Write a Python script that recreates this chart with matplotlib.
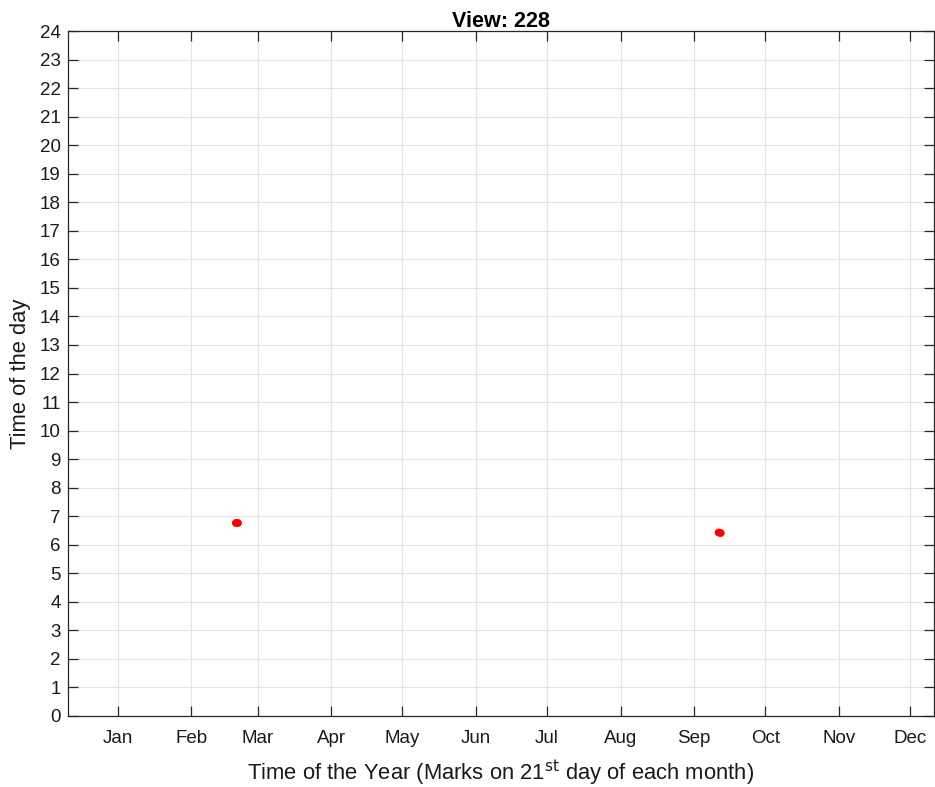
import matplotlib
matplotlib.use("Agg")
import matplotlib.pyplot as plt

plt.rcParams["font.family"] = ["Liberation Sans", "DejaVu Sans"]

# day of year of each sample and time of day (hours)
days = [70.8, 71.3, 71.8, 274.2, 274.7, 275.2]
hours = [6.76, 6.77, 6.76, 6.43, 6.42, 6.41]

months = ["Jan", "Feb", "Mar", "Apr", "May", "Jun",
          "Jul", "Aug", "Sep", "Oct", "Nov", "Dec"]
month_days = [21, 52, 80, 111, 141, 172, 202, 233, 264, 294, 325, 355]
hour_ticks = list(range(0, 25))

AX_C = "#262626"
GRID_C = "#e4e4e4"

fig = plt.figure(figsize=(9.35, 7.87), dpi=100)
ax = fig.add_axes([67.7 / 935, 1 - 716 / 787, (934 - 67.7) / 935, (716 - 31) / 787])

ax.scatter(days, hours, s=30, color="red", edgecolors="none", zorder=3)

ax.set_xlim(0, 365)
ax.set_ylim(0, 24)
ax.set_xticks(month_days)
ax.set_xticklabels(months)
ax.set_yticks(hour_ticks)

ax.grid(True, color=GRID_C, lw=0.8)
ax.set_axisbelow(True)
for sp in ax.spines.values():
    sp.set_color(AX_C)
    sp.set_linewidth(0.9)
ax.tick_params(direction="in", length=7, width=0.9, colors=AX_C,
               labelsize=13.5, top=True, right=True)
ax.tick_params(axis="x", pad=10)
ax.tick_params(axis="y", pad=5)
for lbl in ax.get_xticklabels() + ax.get_yticklabels():
    lbl.set_color("#1a1a1a")

ax.set_title("View: 228", fontsize=15.5, fontweight="bold", pad=3)
ax.set_xlabel("Time of the Year (Marks on 21$^{\\rm st}$ day of each month)",
              fontsize=15.8, color="#1a1a1a", labelpad=8)
ax.set_ylabel("Time of the day", fontsize=15.8, color="#1a1a1a", labelpad=6)

fig.savefig("out.png", dpi=100)
